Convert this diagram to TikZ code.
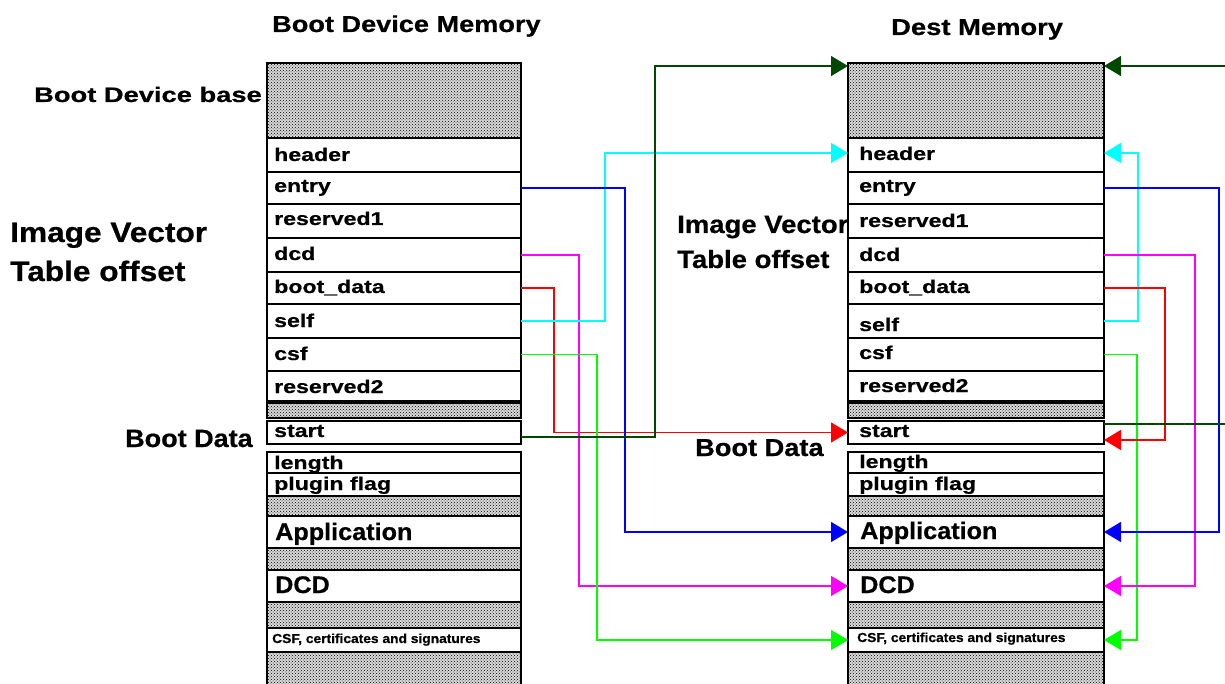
\documentclass[tikz,border=0pt]{standalone}
\usepackage{fontspec}
\setmainfont{Liberation Sans}[FakeBold=0.6]
\usepackage{graphicx}
\usetikzlibrary{arrows.meta,patterns}
\newcommand{\sx}[2]{\scalebox{#1}[1]{#2}}
\definecolor{dkgreen}{RGB}{0,72,0}
\definecolor{cyanc}{RGB}{0,255,255}
\definecolor{bluec}{RGB}{0,0,255}
\definecolor{magc}{RGB}{255,0,255}
\definecolor{redc}{RGB}{255,0,0}
\definecolor{grnc}{RGB}{0,255,0}
\begin{document}
\begin{tikzpicture}[x=1pt,y=-1pt,
  cell/.style={draw=black, line width=1.8pt, fill=white, anchor=north west, inner sep=0pt, outer sep=0pt},
  dotcell/.style={cell, fill=black!15, postaction={pattern=crosshatch dots, pattern color=black}},
  rowlab/.style={anchor=base west, inner sep=0pt, font=\bfseries\fontsize{18.5}{19}\selectfont},
  biglab/.style={anchor=base west, inner sep=0pt, font=\bfseries\fontsize{24}{26}\selectfont},
  smalllab/.style={anchor=base west, inner sep=0pt, font=\bfseries\fontsize{13}{14}\selectfont},
  outlab/.style={anchor=base west, inner sep=0pt, font=\bfseries},
  conn/.style={line width=1.5pt},
  tip/.style={-{Triangle[length=17pt,width=20pt]}},
]
\useasboundingbox (0,0) rectangle (1225,684);
\clip (0,0) rectangle (1225,684);

% outside labels
\node[outlab, font=\bfseries\fontsize{23}{24}\selectfont] (t1) at (272,32) {\sx{1.18}{Boot Device Memory}};
\node[outlab, font=\bfseries\fontsize{23}{24}\selectfont] (t2) at (891,35) {\sx{1.19}{Dest Memory}};
\node[outlab, font=\bfseries\fontsize{21}{22}\selectfont] (bdb) at (34,102) {\sx{1.3}{Boot Device base}};
\node[outlab, font=\bfseries\fontsize{28}{30}\selectfont] (ivl1) at (10,242) {\sx{1.13}{Image Vector}};
\node[outlab, font=\bfseries\fontsize{28}{30}\selectfont] (ivl2) at (10,281) {\sx{1.13}{Table offset}};
\node[outlab, font=\bfseries\fontsize{25}{27}\selectfont] (ivr1) at (677,233) {\sx{1.1}{Image Vector}};
\node[outlab, font=\bfseries\fontsize{25}{27}\selectfont] (ivr2) at (677,268) {\sx{1.1}{Table offset}};
\node[outlab, font=\bfseries\fontsize{25}{27}\selectfont] (bdl) at (125,447) {\sx{1.08}{Boot Data}};
\node[outlab, font=\bfseries\fontsize{24.5}{26}\selectfont] (bdr) at (695,456) {\sx{1.11}{Boot Data}};

% memory columns
\foreach \s/\x/\w in {L/267/254, R/848/256} {
  \foreach \n/\t/\h in {head/138/34, entry/172/32, resa/204/34, dcd/238/34, boot/272/32, self/304/34, csf/338/33, resb/371/30, start/421/23, len/452/21, plug/473/23, app/516/32, DCD/570/32, CSF/628/24}
    \node[cell, minimum width=\w pt, minimum height=\h pt] (\s\n) at (\x,\t) {};
  \foreach \n/\t/\h in {top/63/75, da/403/15, db/496/20, dc/548/22, dd/602/26, de/652/45}
    \node[dotcell, minimum width=\w pt, minimum height=\h pt] (\s\n) at (\x,\t) {};
}

% row labels
\foreach \nm/\y/\txt in {a/161/header, b/192/entry, c/225/reserved1, d/260/dcd, e/293/boot\_data, f/327/self, g/360/csf, h/393/reserved2, i/437/start, j/469/length, k/490/plugin flag}
  \node[rowlab] (LL\nm) at (274,\y) {\sx{1.25}{\txt}};
\foreach \nm/\y/\txt in {a/160/header, b/192/entry, c/227/reserved1, d/261/dcd, e/293/boot\_data, f/331/self, g/359/csf, h/392/reserved2, i/437/start, j/468/length, k/490/plugin flag}
  \node[rowlab] (RL\nm) at (859,\y) {\sx{1.25}{\txt}};
\node[biglab] (LLapp) at (275,540) {\sx{1.05}{Application}};
\node[biglab] (LLdcd) at (275,593) {\sx{1.05}{DCD}};
\node[smalllab] (LLcsf) at (272,643) {\sx{1.06}{CSF, certificates and signatures}};
\node[biglab] (RLapp) at (860,539) {\sx{1.05}{Application}};
\node[biglab] (RLdcd) at (860,593) {\sx{1.05}{DCD}};
\node[smalllab] (RLcsf) at (857,642) {\sx{1.06}{CSF, certificates and signatures}};

% free ends on the right edge
\coordinate (offA) at (1232,424);
\coordinate (offB) at (1232,66);

% connectors: left column -> dest memory
\draw[conn, redc, tip] (Lboot.east) -- ++(33,0) |- (Rstart.west);
\draw[conn, magc, tip] (Ldcd.east) -- ++(58,0) |- (RDCD.west);
\draw[conn, grnc, tip] (Lcsf.east) -- ++(76,0) |- (RCSF.west);
\draw[conn, cyanc, tip] (Lself.east) -- ++(84,0) |- ([yshift=2pt]Rhead.west);
\draw[conn, bluec, tip] (Lentry.east) -- ++(104,0) |- (Rapp.west);
\draw[conn, dkgreen, tip] ([yshift=-4.5pt]Lstart.east) -| (655,66) -- ([yshift=34.5pt]Rtop.west);

% connectors: dest memory self references
\draw[conn, grnc, tip] (Rcsf.east) -- ++(33,0) |- (RCSF.east);
\draw[conn, cyanc, tip] (Rself.east) -- ++(34,0) |- ([yshift=2pt]Rhead.east);
\draw[conn, redc, tip] (Rboot.east) -- ++(61,0) |- ([yshift=-7.5pt]Rstart.east);
\draw[conn, magc, tip] (Rdcd.east) -- ++(91,0) |- (RDCD.east);
\draw[conn, bluec, tip] (Rentry.east) -- ++(115,0) |- (Rapp.east);
\draw[conn, dkgreen] ([yshift=8.5pt]Rstart.east) -- (offA);
\draw[conn, dkgreen, tip] (offB) -- ([yshift=34.5pt]Rtop.east);
\end{tikzpicture}
\end{document}
